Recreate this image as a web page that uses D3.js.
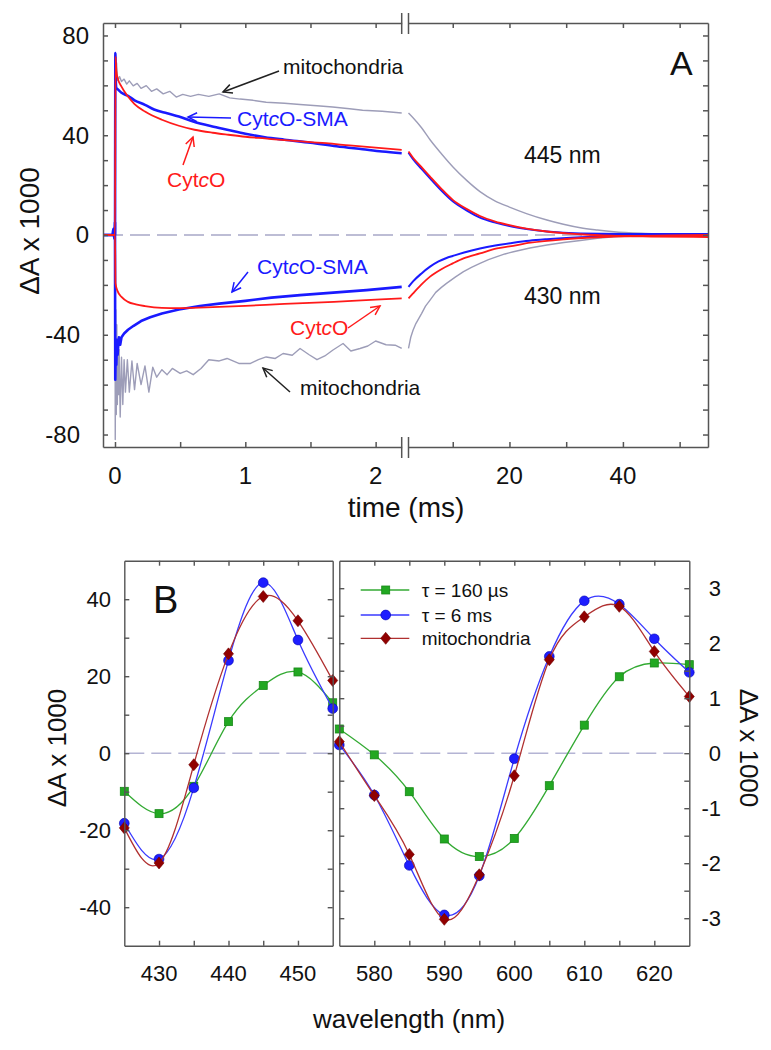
<!DOCTYPE html>
<html><head><meta charset="utf-8">
<script src="https://cdn.jsdelivr.net/npm/d3@7"></script>
<style>
body{margin:0;background:#fff}
svg{display:block}
text{font-family:"Liberation Sans",Arial,Helvetica,sans-serif;fill:#111}
</style>
</head><body>
<svg id="c" width="771" height="1050"></svg>
<script>
// ---------------- Panel A data: [time (ms), dA x 1000] ----------------
const cytcO_445_L = [[-0.092,0],[0,0],[0.004,71.5],[0.01,66],[0.02,63],[0.05,59.5],[0.1,55.5],[0.15,52.5],[0.23,49.5],[0.36,46.2],[0.49,43.8],[0.61,42.2],[0.75,41],[0.87,40.2],[1.0,39.4],[1.15,38.7],[1.3,38],[1.5,37.2],[1.62,36.8],[1.8,35.9],[2.0,35],[2.2,34.1]];
const cytcO_445_R = [[2.2,33.5],[3,31],[4.5,27.2],[6,23.4],[8,18.5],[10,14.1],[12.5,10.4],[14.8,7.6],[17.5,5.4],[20,4.0],[23,2.6],[26.6,1.4],[32.5,0.3],[38,-0.3],[45,-0.6],[55,-0.8]];
const sma_445_L = [[-0.092,0],[-0.02,0],[-0.012,2.5],[-0.006,-1.5],[-0.003,0],[0,0],[0.003,73],[0.006,62],[0.01,59],[0.02,58.5],[0.05,57],[0.1,55.8],[0.15,54],[0.23,52.2],[0.3,50.3],[0.4,48.8],[0.49,47.5],[0.6,45.5],[0.74,43.6],[0.87,42.1],[1.0,40.6],[1.15,39.2],[1.3,38.2],[1.5,37],[1.7,35.6],[1.9,34.4],[2.05,33.5],[2.2,32.8]];
const sma_445_R = [[2.2,33],[3,30.4],[4.5,26.5],[6,22.7],[8,17.8],[10,13.5],[12.5,9.8],[14.8,7.0],[17.5,5.0],[20,3.6],[23,2.4],[26.6,1.4],[32.5,0.6],[40,0.4],[55,0.4]];
const mito_445_L = [[-0.092,0],[0,0],[0.003,73],[0.008,66],[0.012,69],[0.02,62],[0.035,63.5],[0.05,61.5],[0.07,62.5],[0.09,60.5],[0.11,61.8],[0.14,59.8],[0.17,60.8],[0.2,58.8],[0.24,59.9],[0.28,57.6],[0.32,58.6],[0.37,56.6],[0.42,57.6],[0.47,55.3],[0.52,56.4],[0.58,55.6],[0.64,56.4],[0.72,55.6],[0.8,56.6],[0.88,55],[0.96,54.5],[1.06,54],[1.16,53.2],[1.3,52.8],[1.42,52.3],[1.55,51.8],[1.67,51.3],[1.8,50.6],[1.9,50],[2.05,49.6],[2.2,48.9]];
const mito_445_R = [[2.2,48.9],[3,47],[4.5,43],[6,38.2],[8,32.6],[10,27.4],[12.5,21.8],[14.8,17.4],[17.5,13.6],[20,11.2],[23,8.6],[26.6,6.0],[29.5,4.3],[32.5,2.9],[35.5,2.0],[38.4,1.3],[44,0.6],[50,0.2],[55,0]];

const cytcO_430_L = [[-0.092,0],[0,0],[0.004,-19.4],[0.02,-22.5],[0.05,-24.8],[0.1,-26.8],[0.16,-27.8],[0.23,-28.5],[0.36,-29.2],[0.49,-29.3],[0.7,-29.0],[1.0,-28.4],[1.3,-27.6],[1.68,-26.8],[2.0,-25.9],[2.2,-25.4]];
const cytcO_430_R = [[2.2,-25.4],[3,-23.4],[4.5,-19.8],[6,-16.7],[8,-13.7],[10,-11.4],[11.9,-9.4],[14.8,-7.4],[17.8,-5.4],[20,-4.6],[23.7,-3.1],[29.6,-1.7],[35.5,-0.9],[41.4,-0.4],[48,-0.2],[55,0]];
const sma_430_L = [[-0.092,0],[-0.004,0],[0,5],[0.002,-58],[0.006,-45],[0.01,-52],[0.015,-42],[0.02,-48],[0.03,-41],[0.04,-44],[0.05,-41],[0.07,-39.5],[0.1,-38],[0.14,-36.5],[0.2,-34.5],[0.27,-33],[0.36,-31.5],[0.49,-29.9],[0.65,-28.5],[0.8,-27.5],[1.0,-26.4],[1.2,-25.1],[1.42,-24.1],[1.7,-23.0],[1.93,-22.1],[2.2,-20.8]];
const sma_430_R = [[2.2,-20.8],[3,-18.6],[4.5,-15.4],[6,-12.7],[7.5,-10.6],[8.9,-9.2],[10,-8.4],[12,-7.0],[14.8,-5.4],[17.5,-4.2],[20.7,-3.1],[23.5,-2.3],[26.6,-1.7],[32.5,-0.9],[38.4,-0.4],[45,-0.1],[55,0.1]];
const mito_430_L = [[-0.092,0],[0,0],[0.002,-82],[0.006,-30],[0.01,-72],[0.014,-36],[0.018,-68],[0.022,-42],[0.027,-64],[0.032,-46],[0.04,-73],[0.05,-49],[0.06,-68],[0.07,-50],[0.08,-63],[0.095,-50],[0.11,-63],[0.13,-50.5],[0.15,-62],[0.17,-51.5],[0.2,-60],[0.23,-52.5],[0.26,-63],[0.29,-53],[0.32,-57],[0.36,-54],[0.4,-56],[0.44,-53.5],[0.5,-55.5],[0.55,-54.5],[0.6,-56],[0.66,-53.5],[0.72,-50],[0.8,-50.5],[0.86,-49.5],[0.95,-51.5],[1.04,-51.5],[1.1,-50],[1.16,-48.9],[1.23,-49.5],[1.29,-47.5],[1.36,-48.2],[1.42,-45.5],[1.49,-48],[1.55,-50],[1.61,-48.5],[1.67,-46.2],[1.75,-43.5],[1.81,-46.5],[1.88,-45.5],[1.94,-44.5],[2.0,-42.5],[2.08,-44],[2.15,-44.2],[2.2,-45.5]];
const mito_430_R = [[2.2,-45.5],[2.6,-41],[3.0,-38.2],[3.5,-35.5],[4.0,-33.5],[4.5,-31.5],[5.2,-28.5],[6,-26.1],[7,-23],[8,-21],[8.9,-19.4],[10.5,-16.8],[11.9,-14.7],[13.3,-13.0],[14.8,-11.4],[16.3,-9.9],[17.8,-8.7],[19.2,-7.6],[20.7,-6.7],[23.6,-5.2],[26.6,-4.0],[29.6,-3.0],[32.5,-2.2],[35.5,-1.3],[38.4,-0.7],[42,-0.3],[48,0],[55,0]];

const aYTicks = [-80,-40,0,40,80];
const aXTicksL = [0,1,2];
const aXTicksR = [20,40];

// ---------------- Panel B data ----------------
const wlSoret = [425,430,435,440,445,450,455];
const soretTau160 = [-9.9,-15.7,-8.6,8.2,17.6,21.1,13.1];
const soretTau6 = [-18.2,-27.5,-9.0,24.1,44.3,29.4,11.6];
const soretMito = [-19.4,-28.5,-3.0,25.8,40.7,34.4,18.9];
const wlAlpha = [575,580,585,590,595,600,605,610,615,620,625];
const alphaTau160 = [0.44,-0.03,-0.70,-1.56,-1.88,-1.55,-0.59,0.51,1.39,1.64,1.61];
const alphaTau6 = [0.15,-0.76,-2.04,-2.94,-2.23,-0.10,1.76,2.77,2.71,2.08,1.47];
const alphaMito = [0.21,-0.77,-1.84,-3.02,-2.21,-0.41,1.70,2.48,2.67,1.85,1.03];
const legendLabels = ["τ = 160 µs","τ = 6 ms","mitochondria"];
const bYTicksL = [-40,-20,0,20,40];
const bYTicksR = [-3,-2,-1,0,1,2,3];
const bXTicksL = [430,440,450];
const bXTicksR = [580,590,600,610,620];

// ---------------- drawing ----------------
const svg = d3.select("#c");
const AX = "#555";
const SX = 1.0;

function txt(g, x, y, s, o = {}) {
  const t = g.append("text")
    .attr("transform", `translate(${x},${y}) rotate(${o.rot || 0}) scale(${o.sx || SX},1)`)
    .attr("text-anchor", o.anchor || "start")
    .attr("font-size", o.size || 22)
    .style("fill", o.fill || "#111");
  if (o.dy) t.attr("dy", o.dy);
  if (Array.isArray(s)) {
    s.forEach(p => { const ts = t.append("tspan").text(p.t); if (p.i) ts.attr("font-style", "italic"); });
  } else t.text(s);
  return t;
}
function styleAxis(g, w) {
  g.selectAll("path,line").attr("stroke", AX).attr("stroke-width", w || 1.4);
  g.selectAll("text").remove();
}

// markers for arrows
const defs = svg.append("defs");
[["k","#222"],["b","#1a1aff"],["r","#ff1a1a"]].forEach(([id,c]) => {
  defs.append("marker").attr("id","ah"+id).attr("viewBox","-10 -6 12 12")
    .attr("markerWidth",12).attr("markerHeight",12).attr("markerUnits","userSpaceOnUse")
    .attr("orient","auto").attr("refX",0).attr("refY",0)
    .append("path").attr("d","M-9,-4.5L0,0L-9,4.5").attr("fill","none").attr("stroke",c).attr("stroke-width",1.5);
});

// ===== Panel A =====
const ay = d3.scaleLinear().domain([-85, 85]).range([447, 23]);
const axL = d3.scaleLinear().domain([-0.092, 2.2]).range([103, 401.7]);
const axR = d3.scaleLinear().domain([2.2, 55]).range([408.5, 708]);
const gA = svg.append("g");

// zero line
gA.append("line").attr("x1", axL(-0.092)).attr("x2", axR(55)).attr("y1", ay(0)).attr("y2", ay(0))
  .attr("stroke", "#a8a8c8").attr("stroke-width", 1.5).attr("stroke-dasharray", "20,7");

const lineL = c => d3.line().x(d => axL(d[0])).y(d => ay(d[1])).curve(c);
const lineR = c => d3.line().x(d => axR(d[0])).y(d => ay(d[1])).curve(c);
function trace(data, gen, color, w) {
  gA.append("path").datum(data).attr("d", gen).attr("fill", "none").attr("stroke", color)
    .attr("stroke-width", w).attr("stroke-linejoin", "round");
}
const GRAY = "#9d9db8", RED = "#ff1a1a", BLUE = "#1a1aff";
trace(mito_445_L, lineL(d3.curveLinear), GRAY, 1.4);
trace(mito_430_L, lineL(d3.curveLinear), GRAY, 1.4);
trace(mito_445_R, lineR(d3.curveMonotoneX), GRAY, 1.4);
trace(mito_430_R, lineR(d3.curveLinear), GRAY, 1.4);
trace(sma_445_L, lineL(d3.curveMonotoneX), BLUE, 2.6);
trace(sma_430_L, lineL(d3.curveLinear), BLUE, 2.6);
trace(sma_445_R, lineR(d3.curveMonotoneX), BLUE, 2);
trace(sma_430_R, lineR(d3.curveMonotoneX), BLUE, 2);
trace(cytcO_445_L, lineL(d3.curveMonotoneX), RED, 1.8);
trace(cytcO_430_L, lineL(d3.curveMonotoneX), RED, 1.8);
trace(cytcO_445_R, lineR(d3.curveMonotoneX), RED, 1.8);
trace(cytcO_430_R, lineR(d3.curveMonotoneX), RED, 1.8);

// axes
const yt10 = d3.range(-80, 81, 10);
styleAxis(gA.append("g").attr("transform", "translate(103,0)")
  .call(d3.axisLeft(ay).tickValues(yt10).tickSizeInner(-5).tickSizeOuter(0)), 1.5);
styleAxis(gA.append("g").attr("transform", "translate(708,0)")
  .call(d3.axisRight(ay).tickValues(yt10).tickSizeInner(-5).tickSizeOuter(0)), 1.5);
[[447, d3.axisBottom], [23, d3.axisTop]].forEach(([y, f]) => {
  styleAxis(gA.append("g").attr("transform", `translate(0,${y})`)
    .call(f(axL).tickValues([0, 0.5, 1, 1.5, 2]).tickSizeInner(-5).tickSizeOuter(0)), 1.5);
  styleAxis(gA.append("g").attr("transform", `translate(0,${y})`)
    .call(f(axR).tickValues([10, 20, 30, 40, 50]).tickSizeInner(-5).tickSizeOuter(0)), 1.5);
  [axL.range()[1], axR.range()[0]].forEach(x => {
    gA.append("line").attr("x1", x).attr("x2", x).attr("y1", y - 10).attr("y2", y + 11)
      .attr("stroke", AX).attr("stroke-width", 1.5);
  });
});
// tick labels
aYTicks.forEach(v => txt(gA, v < 0 ? 80 : 89, ay(v), v < 0 ? "-" + Math.abs(v) : String(v), {anchor: "end", size: 24, dy: "0.35em"}));
aXTicksL.forEach(v => txt(gA, axL(v), 476, String(v), {anchor: "middle", size: 24, dy: "0.35em"}));
aXTicksR.forEach(v => txt(gA, axR(v), 476, String(v), {anchor: "middle", size: 24, dy: "0.35em"}));
txt(gA, 29, 231, "ΔA x 1000", {anchor: "middle", size: 28, rot: -90, dy: "0.35em"});
txt(gA, 406, 517, "time (ms)", {anchor: "middle", size: 28});
txt(gA, 670, 75, "A", {size: 34});
txt(gA, 524, 163, "445 nm", {size: 23});
txt(gA, 524, 304, "430 nm", {size: 23});
// annotations
function arrow(x1, y1, x2, y2, c, id) {
  gA.append("line").attr("x1", x1).attr("y1", y1).attr("x2", x2).attr("y2", y2)
    .attr("stroke", c).attr("stroke-width", 1.5).attr("marker-end", `url(#ah${id})`);
}
txt(gA, 283, 74, "mitochondria", {size: 21});
arrow(279, 71, 223, 92, "#222", "k");
txt(gA, 237, 126, [{t: "Cyt"}, {t: "c", i: 1}, {t: "O-SMA"}], {size: 21, fill: BLUE});
arrow(231, 118, 188, 117, BLUE, "b");
txt(gA, 167, 187, [{t: "Cyt"}, {t: "c", i: 1}, {t: "O"}], {size: 21, fill: RED});
arrow(183, 165, 193, 137, RED, "r");
txt(gA, 257, 274, [{t: "Cyt"}, {t: "c", i: 1}, {t: "O-SMA"}], {size: 21, fill: BLUE});
arrow(248, 272, 232, 292, BLUE, "b");
txt(gA, 290, 335, [{t: "Cyt"}, {t: "c", i: 1}, {t: "O"}], {size: 21, fill: RED});
arrow(348, 328, 380, 306, RED, "r");
txt(gA, 300, 395, "mitochondria", {size: 21});
arrow(290, 392, 263, 368, "#222", "k");

// ===== Panel B =====
const gB = svg.append("g");
const byL = d3.scaleLinear().domain([-50, 50]).range([945.7, 560.7]);
const byR = d3.scaleLinear().domain([-3.5, 3.5]).range([945.7, 560.7]);
const bxL = d3.scaleLinear().domain([425, 455]).range([124.3, 332.7]);
const bxR = d3.scaleLinear().domain([575, 625]).range([339.3, 689.3]);

// zero lines
[[bxL, byL], [bxR, byR]].forEach(([x, y]) => {
  gB.append("line").attr("x1", x.range()[0]).attr("x2", x.range()[1]).attr("y1", y(0)).attr("y2", y(0))
    .attr("stroke", "#b4b4d4").attr("stroke-width", 1.5).attr("stroke-dasharray", "20,7");
});

const SER = [
  {name: "tau160", line: "#33aa33", fill: "#22a822", stroke: "#188818", shape: "square"},
  {name: "tau6", line: "#3a3aff", fill: "#1e1eff", stroke: "#0000b0", shape: "circle"},
  {name: "mito", line: "#b03030", fill: "#900000", stroke: "#700000", shape: "diamond"}
];
function marker(g, shape, x, y, s) {
  if (shape === "square") g.append("rect").attr("x", x - 4).attr("y", y - 4).attr("width", 8).attr("height", 8).attr("fill", s.fill).attr("stroke", s.stroke).attr("stroke-width", 0.8);
  else if (shape === "circle") g.append("circle").attr("cx", x).attr("cy", y).attr("r", 4.9).attr("fill", s.fill).attr("stroke", s.stroke).attr("stroke-width", 0.6);
  else g.append("path").attr("transform", `translate(${x},${y})`).attr("d", "M0,-6L5,0L0,6L-5,0Z").attr("fill", s.fill).attr("stroke", s.stroke).attr("stroke-width", 0.6);
}
const sets = [
  {wl: wlSoret, x: bxL, y: byL, vals: [soretTau160, soretTau6, soretMito]},
  {wl: wlAlpha, x: bxR, y: byR, vals: [alphaTau160, alphaTau6, alphaMito]}
];
SER.forEach((s, i) => {
  sets.forEach(st => {
    const pts = st.wl.map((w, k) => [w, st.vals[i][k]]);
    gB.append("path").datum(pts)
      .attr("d", d3.line().x(d => st.x(d[0])).y(d => st.y(d[1])).curve(d3.curveNatural))
      .attr("fill", "none").attr("stroke", s.line).attr("stroke-width", 1.3);
    pts.forEach(p => marker(gB, s.shape, st.x(p[0]), st.y(p[1]), s));
  });
});

// axes B
const tk5L = d3.range(425, 456, 5), tk5R = d3.range(575, 626, 5);
[[945.7, d3.axisBottom], [560.7, d3.axisTop]].forEach(([y, f]) => {
  styleAxis(gB.append("g").attr("transform", `translate(0,${y})`).call(f(bxL).tickValues(tk5L.slice(1, -1)).tickSizeInner(-5).tickSizeOuter(0)), 1.4);
  styleAxis(gB.append("g").attr("transform", `translate(0,${y})`).call(f(bxR).tickValues(tk5R.slice(1, -1)).tickSizeInner(-5).tickSizeOuter(0)), 1.4);
});
const ytL = d3.range(-40, 41, 10), ytR = d3.range(-3, 3.01, 0.5);
styleAxis(gB.append("g").attr("transform", "translate(124.3,0)").call(d3.axisLeft(byL).tickValues(ytL).tickSizeInner(-5).tickSizeOuter(0)), 1.4);
styleAxis(gB.append("g").attr("transform", "translate(332.7,0)").call(d3.axisRight(byL).tickValues(ytL).tickSizeInner(-5).tickSizeOuter(0)), 1.4);
styleAxis(gB.append("g").attr("transform", "translate(339.3,0)").call(d3.axisLeft(byR).tickValues(ytR).tickSizeInner(-5).tickSizeOuter(0)), 1.4);
styleAxis(gB.append("g").attr("transform", "translate(689.3,0)").call(d3.axisRight(byR).tickValues(ytR).tickSizeInner(-5).tickSizeOuter(0)), 1.4);

bYTicksL.forEach(v => txt(gB, 111, byL(v), String(v), {anchor: "end", size: 22, dy: "0.35em"}));
bYTicksR.forEach(v => txt(gB, 721, byR(v), String(v), {anchor: "end", size: 22, dy: "0.35em"}));
bXTicksL.forEach(v => txt(gB, bxL(v), 973, String(v), {anchor: "middle", size: 22, dy: "0.35em"}));
bXTicksR.forEach(v => txt(gB, bxR(v), 973, String(v), {anchor: "middle", size: 22, dy: "0.35em"}));
txt(gB, 57, 748, "ΔA x 1000", {anchor: "middle", size: 26, rot: -90, dy: "0.35em"});
txt(gB, 749, 748, "ΔA x 1000", {anchor: "middle", size: 26, rot: 90, dy: "0.35em"});
txt(gB, 409, 1028, "wavelength (nm)", {anchor: "middle", size: 26});
txt(gB, 153, 613, "B", {size: 38});

// legend
const legY = [590, 615, 638.3];
SER.forEach((s, i) => {
  gB.append("line").attr("x1", 360.7).attr("x2", 409.3).attr("y1", legY[i]).attr("y2", legY[i]).attr("stroke", s.line).attr("stroke-width", 1.3);
  marker(gB, s.shape, 385.7, legY[i], s);
  txt(gB, 421.7, legY[i], legendLabels[i], {size: 19, dy: "0.35em"});
});
</script>
</body></html>
